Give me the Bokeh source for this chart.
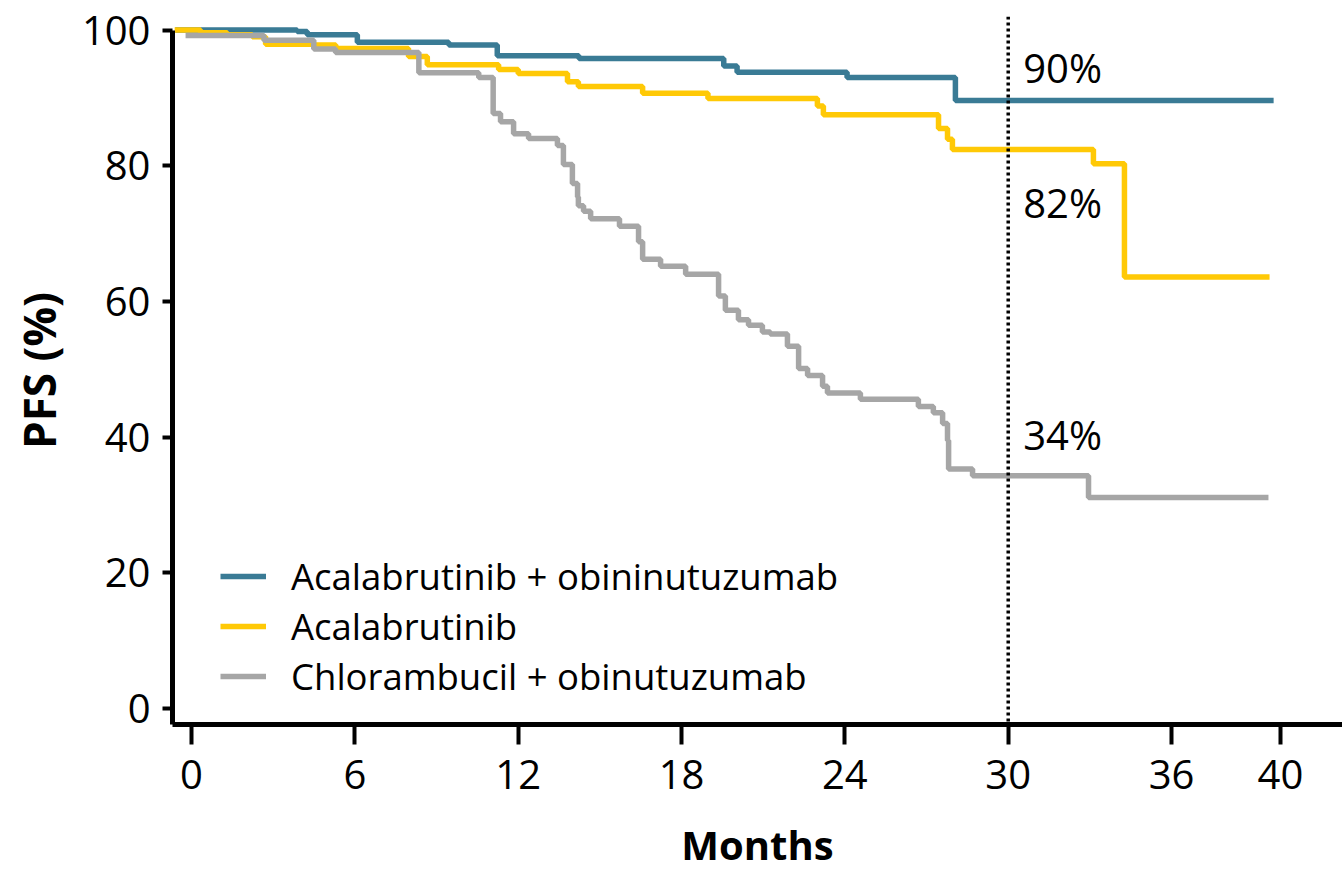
from bokeh.plotting import figure
from bokeh.models import (Range1d, FixedTicker, Span, Legend, LegendItem,
                          ColumnDataSource)
from bokeh.core.properties import value
from bokeh.embed import file_html
from bokeh.resources import INLINE

# Kaplan-Meier progression-free survival, step times (months) and PFS (%)
acal_obi_t = [-0.6, 3.88, 4.25, 6.09, 9.45, 11.23, 14.23, 19.55, 20.04, 24.08, 28.06]
acal_obi_s = [100.0, 99.8, 99.3, 98.2, 97.8, 96.2, 95.8, 94.7, 93.8, 93.0, 89.6]
acal_obi_end = 39.75

acal_t = [-0.62, 0.33, 1.31, 2.23, 2.72, 4.49, 5.3, 7.97, 8.66, 11.28, 12.0,
          13.81, 14.21, 16.57, 18.97, 22.99, 23.21, 27.44, 27.77, 27.95,
          33.13, 34.27]
acal_s = [100.0, 99.6, 99.3, 99.0, 97.9, 97.8, 97.3, 96.1, 94.9, 94.2, 93.6,
          92.4, 91.7, 90.7, 89.9, 88.8, 87.5, 85.5, 83.9, 82.4,
          80.3, 63.6]
acal_end = 39.6

clb_obi_t = [-0.22, 2.66, 4.49, 5.29, 8.35, 10.55, 11.08, 11.35, 11.83, 12.38,
             13.44, 13.66, 13.99, 14.18, 14.21, 14.40, 14.66, 15.72, 16.42,
             16.57, 17.23, 18.15, 19.36, 19.61, 20.09, 20.46, 20.97, 21.26,
             21.89, 22.30, 22.63, 23.18, 23.36, 24.57, 26.70, 27.25, 27.59,
             27.77, 27.81, 28.69, 32.95]
clb_obi_s = [99.2, 98.5, 97.2, 96.7, 93.7, 93.0, 87.7, 86.5, 84.7, 84.0,
             83.0, 80.2, 77.4, 75.4, 74.1, 73.3, 72.2, 71.1, 68.8,
             66.2, 65.2, 64.0, 60.8, 58.7, 57.3, 56.5, 55.5, 55.2,
             53.4, 50.1, 49.1, 47.5, 46.5, 45.6, 44.5, 43.6, 42.0,
             39.5, 35.3, 34.3, 31.1]
clb_obi_end = 39.56

series_names = ["Acalabrutinib + obininutuzumab", "Acalabrutinib",
                "Chlorambucil + obinutuzumab"]
landmark_month = 30
x_ticks = [0, 6, 12, 18, 24, 30, 36, 40]
y_ticks = [0, 20, 40, 60, 80, 100]

colors = ["#3A7B95", "#FFC906", "#A6A6A6"]
FONT = "Open Sans"

p = figure(width=1342, height=874, output_backend="svg", toolbar_location=None,
           x_range=Range1d(-0.70, 42.28), y_range=Range1d(-2.36, 102.0),
           min_border_left=172, min_border_right=0, min_border_top=16,
           min_border_bottom=150)
p.outline_line_color = None
p.xgrid.visible = False
p.ygrid.visible = False
p.background_fill_color = "white"
p.border_fill_color = "white"

# Landmark line
p.add_layout(Span(location=landmark_month, dimension="height",
                  line_color="black", line_width=3.5, line_dash="3 3"))

curves = [(acal_obi_t, acal_obi_s, acal_obi_end),
          (acal_t, acal_s, acal_end),
          (clb_obi_t, clb_obi_s, clb_obi_end)]

renderers = []
landmark_vals = []
for (t, s, end), col in zip(curves, colors):
    xs = list(t) + [end]
    ys = list(s) + [s[-1]]
    r = p.step(xs, ys, mode="after", line_color=col, line_width=5.5)
    renderers.append(r)
    # survival at the landmark month
    v = [sv for tv, sv in zip(t, s) if tv <= landmark_month][-1]
    landmark_vals.append(v)

# Landmark percentages
label_dy = [4.9, -7.8, 6.1]
src = ColumnDataSource(dict(
    x=[landmark_month] * 3,
    y=[v + d for v, d in zip(landmark_vals, label_dy)],
    txt=[f"{round(v)}%" for v in landmark_vals]))
p.text(x="x", y="y", text="txt", source=src, x_offset=15,
       text_font=value(FONT), text_font_size="40px", text_color="black",
       text_align="left", text_baseline="middle")

# Axes
for ax in (p.xaxis[0], p.yaxis[0]):
    ax.axis_line_width = 5
    ax.axis_line_color = "black"
    ax.major_tick_line_width = 4
    ax.major_tick_line_color = "black"
    ax.minor_tick_line_color = None
    ax.major_label_text_font = FONT
    ax.major_label_text_font_size = "40px"
    ax.major_label_text_color = "black"
    ax.axis_label_text_font = FONT
    ax.axis_label_text_font_style = "bold"
    ax.axis_label_text_color = "black"

p.xaxis.ticker = FixedTicker(ticks=x_ticks)
p.xaxis.major_tick_out = 20
p.xaxis.major_tick_in = 0
p.xaxis.major_label_standoff = 15
p.xaxis.axis_label = "Months"
p.xaxis.axis_label_text_font_size = "40px"
p.xaxis.axis_label_standoff = 25

p.yaxis.ticker = FixedTicker(ticks=y_ticks)
p.yaxis.bounds = (-2.36, 100)
p.yaxis.major_tick_out = 10
p.yaxis.major_tick_in = 0
p.yaxis.major_label_standoff = 12
p.yaxis.axis_label = "PFS (%)"
p.yaxis.axis_label_text_font_size = "44px"
p.yaxis.axis_label_standoff = 10

legend = Legend(items=[LegendItem(label=n, renderers=[r])
                       for n, r in zip(series_names, renderers)],
                location=(48, 23), orientation="vertical",
                glyph_width=46, glyph_height=20, label_height=20,
                label_standoff=25, spacing=0, padding=0, margin=0,
                border_line_color=None, background_fill_alpha=0,
                label_text_font=FONT, label_text_font_size="36.5px",
                label_text_color="black")
p.add_layout(legend)

open("out.html", "w").write(file_html(p, INLINE))
